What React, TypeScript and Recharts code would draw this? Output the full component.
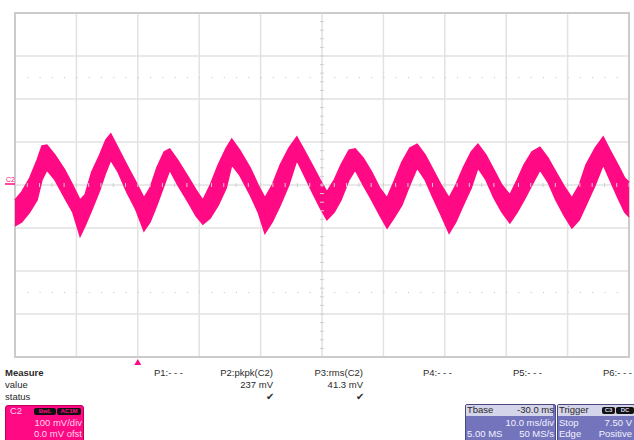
import {
  ComposedChart,
  Area,
  Scatter,
  XAxis,
  YAxis,
  CartesianGrid,
  ReferenceLine,
  ReferenceArea,
  ReferenceDot,
} from "recharts";

// C2 ripple trace: time (ms from left edge) and the
// top / bottom of the noisy band (mV)
const timeMs = [
  0, 1.1, 2.4, 3.6, 4.4, 5.2, 6.5, 8.1, 9.4, 10.6, 11.4, 12.5, 13.8, 14.8, 15.6,
  16.8, 18.2, 19.7, 21.0, 22.0, 23.1, 24.3, 25.2, 26.5, 28.2, 29.5, 30.6, 31.8,
  33.1, 34.4, 35.3, 36.6, 38.3, 39.6, 40.7, 41.9, 43.2, 44.6, 45.9, 47.1, 48.4,
  49.7, 50.8, 52.0, 53.1, 54.4, 55.4, 56.7, 58.1, 59.4, 60.6, 61.7, 63.0, 64.3,
  65.5, 66.8, 68.1, 69.4, 70.7, 71.8, 73.0, 74.3, 75.4, 76.7, 78.0, 79.3, 80.6,
  81.8, 82.9, 84.2, 85.5, 86.8, 88.1, 89.4, 90.7, 91.9, 93.0, 94.5, 95.8, 96.9,
  98.2, 99.3, 100,
];
const upperMv = [
  -35, -16, 16, 58, 91, 93, 70, 35, 0, -35, -23, 30, 70, 105, 119,
  86, 47, 7, -30, -7, 40, 77, 84, 58, 19, -12, -35, 0,
  47, 86, 107, 81, 40, 0, -30, 0, 47, 86, 112, 81, 47,
  12, -16, 12, 47, 81, 84, 63, 30, -7, -30, 7, 53, 86,
  95, 70, 35, 0, -30, 0, 40, 77, 95, 70, 35, 0, -23,
  12, 47, 77, 88, 63, 30, -2, -30, 0, 47, 86, 112, 81,
  47, 16, 7,
];
const lowerMv = [
  -95, -86, -63, -35, 12, 35, 12, -30, -63, -119, -95, -58, -12, 30, 58,
  30, -16, -58, -107, -86, -47, 0, 35, 0, -40, -72, -91, -77,
  -47, -7, 47, 23, -23, -63, -112, -86, -47, 0, 58, 23, -16,
  -53, -81, -63, -35, 12, 35, 0, -35, -70, -100, -77, -47, 0,
  40, 12, -30, -70, -112, -86, -47, -7, 40, 12, -30, -63, -88,
  -63, -35, 0, 35, 7, -35, -70, -100, -81, -47, 0, 47, 12,
  -30, -63, -74,
];

// 10 ms/div, 100 mV/div
const gridTimes = [0, 10, 20, 30, 40, 50, 60, 70, 80, 90, 100];
const gridVolts = [-400, -300, -200, -100, 0, 100, 200, 300, 400];
const minorTimes = [
  0, 2, 4, 6, 8, 10, 12, 14, 16, 18, 20, 22, 24, 26, 28, 30, 32, 34, 36, 38, 40,
  42, 44, 46, 48, 50, 52, 54, 56, 58, 60, 62, 64, 66, 68, 70, 72, 74, 76, 78, 80,
  82, 84, 86, 88, 90, 92, 94, 96, 98, 100,
];
const minorVolts = [
  -400, -380, -360, -340, -320, -300, -280, -260, -240, -220, -200, -180, -160,
  -140, -120, -100, -80, -60, -40, -20, 0, 20, 40, 60, 80, 100, 120, 140, 160,
  180, 200, 220, 240, 260, 280, 300, 320, 340, 360, 380, 400,
];
const markerVolts = [250, -250];
const triggerMs = 20;

const TRACE = "#ff0a84";
const GRID = "#e2e2e2";
const FONT = '"Liberation Sans", Arial, sans-serif';

const trace = timeMs.map((t, i) => ({ t, band: [lowerMv[i], upperMv[i]] }));
const hTicks = minorTimes.map((t) => ({ t, v: 0 }));
const vTicks = minorVolts.map((v) => ({ t: 50, v }));

const HTick = (p: any) => (
  <line x1={p.cx} x2={p.cx} y1={p.cy - 2} y2={p.cy + 2} stroke="#cfcfcf" strokeWidth={1} />
);
const VTick = (p: any) => (
  <line x1={p.cx - 2} x2={p.cx + 2} y1={p.cy} y2={p.cy} stroke="#cfcfcf" strokeWidth={1} />
);
const TrigMark = (p: any) => (
  <path d={`M${p.cx - 3.5},${p.cy + 8} L${p.cx},${p.cy + 2} L${p.cx + 3.5},${p.cy + 8} Z`} fill={TRACE} />
);
const GroundMark = (p: any) => (
  <g>
    <text x={p.cx - 9} y={p.cy - 3} fontSize={7} fill={TRACE} fontFamily={FONT}>
      C2
    </text>
    <line x1={p.cx - 10} x2={p.cx} y1={p.cy - 1} y2={p.cy - 1} stroke={TRACE} strokeWidth={1.5} />
  </g>
);

const txt = (
  s: string,
  x: number,
  y: number,
  opts: { align?: "left" | "right"; bold?: boolean; color?: string; size?: number } = {}
) => (
  <div
    style={{
      position: "absolute",
      top: y - 6,
      left: opts.align === "right" ? undefined : x,
      right: opts.align === "right" ? 634 - x : undefined,
      fontSize: opts.size ?? 9.5,
      lineHeight: "12px",
      fontWeight: opts.bold ? "bold" : "normal",
      color: opts.color ?? "#2a2a2a",
      whiteSpace: "nowrap",
    }}
  >
    {s}
  </div>
);

const badge = (s: string, x: number, y: number, w: number, color: string) => (
  <div
    style={{
      position: "absolute",
      left: x,
      top: y,
      width: w,
      height: 7,
      background: "#111",
      borderRadius: 2,
      color,
      fontSize: 6,
      lineHeight: "7px",
      fontWeight: "bold",
      textAlign: "center",
    }}
  >
    {s}
  </div>
);

export default function App() {
  return (
    <div
      style={{
        position: "absolute",
        left: 0,
        top: 0,
        width: 634,
        height: 440,
        overflow: "hidden",
        background: "#fff",
        fontFamily: FONT,
      }}
    >
      <ComposedChart
        width={634}
        height={372}
        data={trace}
        margin={{ top: 13, right: 5, bottom: 15, left: 15 }}
      >
        <XAxis dataKey="t" type="number" domain={[0, 100]} ticks={gridTimes} hide />
        <YAxis type="number" domain={[-400, 400]} ticks={gridVolts} hide />
        <CartesianGrid stroke={GRID} strokeWidth={1.5} />
        {markerVolts.map((v) => (
          <ReferenceLine key={v} y={v} stroke="#c4c4c4" strokeDasharray="1 11.28" />
        ))}
        <Scatter data={hTicks} dataKey="v" shape={HTick} isAnimationActive={false} />
        <Scatter data={vTicks} dataKey="v" shape={VTick} isAnimationActive={false} />
        <ReferenceArea x1={0} x2={100} y1={-400} y2={400} fill="none" stroke="#cbcbcb" strokeWidth={2} />
        <Area
          dataKey="band"
          type="linear"
          stroke={TRACE}
          strokeWidth={1.5}
          fill={TRACE}
          fillOpacity={1}
          dot={false}
          activeDot={false}
          isAnimationActive={false}
        />
        <ReferenceDot x={triggerMs} y={-400} ifOverflow="visible" shape={TrigMark} />
        <ReferenceDot x={0} y={0} ifOverflow="visible" shape={GroundMark} />
      </ComposedChart>

      {txt("Measure", 5, 373, { bold: true })}
      {txt("value", 5, 385)}
      {txt("status", 5, 397)}
      {txt("P1:- - -", 154, 373)}
      {txt("P2:pkpk(C2)", 273, 373, { align: "right" })}
      {txt("237 mV", 273, 385, { align: "right" })}
      {txt("\u2714", 274, 397, { align: "right" })}
      {txt("P3:rms(C2)", 363, 373, { align: "right" })}
      {txt("41.3 mV", 363, 385, { align: "right" })}
      {txt("\u2714", 364, 397, { align: "right" })}
      {txt("P4:- - -", 423, 373)}
      {txt("P5:- - -", 513, 373)}
      {txt("P6:- - -", 632, 373, { align: "right" })}

      <div
        style={{
          position: "absolute",
          left: 5,
          top: 405,
          width: 77,
          height: 40,
          background: TRACE,
          border: "1px solid #b8005c",
          borderRadius: 3,
        }}
      />
      {txt("C2", 10, 411, { color: "#ffd3ea" })}
      {badge("BwL", 34, 408, 22, TRACE)}
      {badge("AC1M", 57, 408, 24, TRACE)}
      {txt("100 mV/div", 82, 423, { align: "right", color: "#ffd3ea" })}
      {txt("0.0 mV ofst", 82, 434, { align: "right", color: "#ffd3ea" })}

      <div
        style={{
          position: "absolute",
          left: 465,
          top: 404,
          width: 89,
          height: 40,
          background: "#7474bd",
          border: "1px solid #4a4a80",
          borderRadius: 2,
        }}
      />
      <div style={{ position: "absolute", left: 466, top: 405, width: 87, height: 11, background: "#d4d4ea" }} />
      {txt("Tbase", 467, 410)}
      {txt("-30.0 ms", 554, 410, { align: "right" })}
      {txt("10.0 ms/div", 554, 423, { align: "right", color: "#f2f2ff" })}
      {txt("5.00 MS", 467, 434, { color: "#f2f2ff" })}
      {txt("50 MS/s", 554, 434, { align: "right", color: "#f2f2ff" })}

      <div
        style={{
          position: "absolute",
          left: 557,
          top: 404,
          width: 80,
          height: 40,
          background: "#7474bd",
          border: "1px solid #4a4a80",
          borderRadius: 2,
        }}
      />
      <div style={{ position: "absolute", left: 558, top: 405, width: 78, height: 11, background: "#d4d4ea" }} />
      {txt("Trigger", 559, 410)}
      {badge("C3", 602, 407, 13, "#d4d4ea")}
      {badge("DC", 616, 407, 18, "#d4d4ea")}
      {txt("Stop", 559, 423, { color: "#f2f2ff" })}
      {txt("7.50 V", 632, 423, { align: "right", color: "#f2f2ff" })}
      {txt("Edge", 559, 434, { color: "#f2f2ff" })}
      {txt("Positive", 632, 434, { align: "right", color: "#f2f2ff" })}
    </div>
  );
}
